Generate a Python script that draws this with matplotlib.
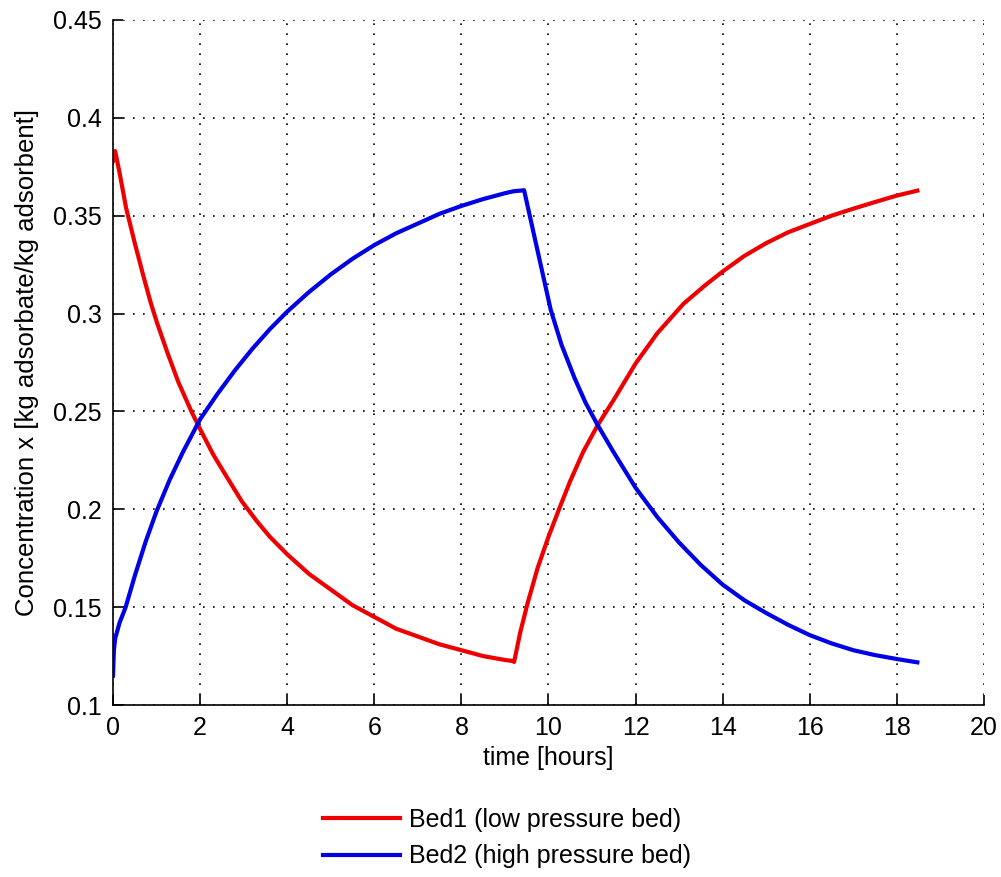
import numpy as np
import matplotlib
matplotlib.use('Agg')
import matplotlib.pyplot as plt

plt.rcParams['font.family'] = ['Liberation Sans', 'DejaVu Sans']

# =========================
# Data
# =========================
t_bed1 = [0, 0.05, 0.15, 0.3, 0.5, 0.7, 0.86, 1.0, 1.25, 1.5, 1.8, 2.0, 2.3, 2.6,
          2.96, 3.3, 3.6, 4.0, 4.5, 5.0, 5.5, 6.0, 6.5, 7.0, 7.5, 8.0, 8.5, 9.0, 9.18,
          9.21, 9.35, 9.52, 9.75, 10.0, 10.25, 10.5, 10.8, 11.13, 11.5, 12.0, 12.5,
          13.1, 13.6, 14.0, 14.5, 15.0, 15.5, 16.0, 16.5, 17.0, 17.5, 18.0, 18.47]
x_bed1 = [0.378, 0.383, 0.372, 0.354, 0.336, 0.319, 0.306, 0.296, 0.280, 0.265,
          0.250, 0.241, 0.228, 0.217, 0.204, 0.194, 0.186, 0.177, 0.167, 0.159,
          0.151, 0.145, 0.139, 0.135, 0.131, 0.128, 0.125, 0.123, 0.1225,
          0.122, 0.137, 0.152, 0.170, 0.186, 0.2005, 0.2145, 0.2295, 0.243, 0.256,
          0.2745, 0.290, 0.305, 0.3145, 0.3215, 0.3295, 0.336, 0.3415, 0.3458, 0.350,
          0.3536, 0.357, 0.3603, 0.3628]

t_bed2 = [0, 0.02, 0.05, 0.15, 0.29, 0.5, 0.75, 1.0, 1.3, 1.6, 2.0, 2.4, 2.8, 3.2,
          3.6, 4.0, 4.5, 5.0, 5.5, 6.0, 6.5, 7.0, 7.5, 8.0, 8.5, 9.0, 9.2, 9.44,
          9.6, 9.8, 10.05, 10.3, 10.6, 10.85, 11.13, 11.5, 12.0, 12.5, 13.0, 13.5,
          14.0, 14.5, 15.0, 15.5, 16.0, 16.5, 17.0, 17.5, 18.0, 18.47]
x_bed2 = [0.115, 0.128, 0.134, 0.142, 0.150, 0.166, 0.1835, 0.199, 0.215, 0.229,
          0.246, 0.259, 0.271, 0.282, 0.292, 0.301, 0.311, 0.320, 0.328, 0.335,
          0.341, 0.346, 0.351, 0.355, 0.3585, 0.3615, 0.3625, 0.363,
          0.347, 0.327, 0.302, 0.284, 0.267, 0.2545, 0.243, 0.229, 0.211, 0.196,
          0.183, 0.1715, 0.1615, 0.1535, 0.147, 0.141, 0.1357, 0.1315, 0.128, 0.1255,
          0.1235, 0.1218]

labels = ['Bed1 (low pressure bed)', 'Bed2 (high pressure bed)']
xticks = np.arange(0, 21, 2)
yticks = np.round(np.arange(0.1, 0.451, 0.05), 2)

# =========================
# Figure
# =========================
fig = plt.figure(figsize=(10.01, 8.77), dpi=100)
ax = fig.add_axes([0.1129, 0.1961, 0.8701, 0.7811])

ax.plot(t_bed1, x_bed1, color='#ee0000', lw=3, label=labels[0])
ax.plot(t_bed2, x_bed2, color='#0000e6', lw=3, label=labels[1])

ax.set_xlim(0, 20)
ax.set_ylim(0.1, 0.45)
ax.set_xticks(xticks)
ax.set_yticks(yticks)
ax.set_xticklabels([str(v) for v in xticks])
ax.set_yticklabels(['0.1', '0.15', '0.2', '0.25', '0.3', '0.35', '0.4', '0.45'])

ax.grid(True, color='black', linestyle=(0, (1, 5)), linewidth=1.2)
ax.set_axisbelow(True)
for s in ['top', 'right']:
    ax.spines[s].set_visible(False)
for s in ['left', 'bottom']:
    ax.spines[s].set_linewidth(1.2)

ax.tick_params(axis='both', direction='in', length=7, width=1.2, labelsize=18)
ax.tick_params(axis='x', pad=8)
ax.tick_params(axis='y', pad=8)

ax.set_xlabel('time [hours]', fontsize=18, labelpad=4)
ax.set_ylabel('Concentration x [kg adsorbate/kg adsorbent]', fontsize=18.5, labelpad=10)

fig.legend(loc='center', bbox_to_anchor=(507 / 1001, 1 - 838 / 877), frameon=False,
           fontsize=18, handlelength=3.1, handletextpad=0.35, labelspacing=0.5)

plt.savefig('out.png', dpi=100)
